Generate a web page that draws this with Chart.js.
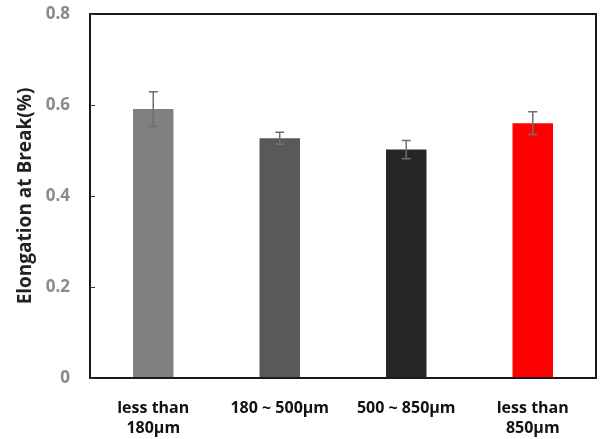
<!DOCTYPE html>
<html>
<head>
<meta charset="utf-8">
<script src="https://cdn.jsdelivr.net/npm/chart.js@4/dist/chart.umd.min.js"></script>
<style>
html,body{margin:0;padding:0;background:#fff;}
#wrap{width:600px;height:439px;position:relative;}
</style>
</head>
<body>
<div id="wrap"><canvas id="c" width="600" height="439"></canvas></div>
<script>
const categories = [["less than","180μm"], "180 ~ 500μm", "500 ~ 850μm", ["less than","850μm"]];
const values = [0.591, 0.527, 0.502, 0.560];
const errors = [0.038, 0.013, 0.020, 0.025];
const barColors = ["#808080", "#595959", "#262626", "#ff0000"];
const yTicks = [0, 0.2, 0.4, 0.6, 0.8];

const framePlugin = {
  id: 'frame',
  afterDatasetsDraw(chart) {
    const ctx = chart.ctx, a = chart.chartArea, y = chart.scales.y, x = chart.scales.x;
    ctx.save();
    ctx.strokeStyle = '#6e6e6e';
    ctx.lineWidth = 1.5;
    values.forEach((v, i) => {
      const cx = x.getPixelForValue(i);
      const top = y.getPixelForValue(v + errors[i]);
      const bot = y.getPixelForValue(v - errors[i]);
      ctx.beginPath();
      ctx.moveTo(cx, top); ctx.lineTo(cx, bot);
      ctx.moveTo(cx - 4.5, top); ctx.lineTo(cx + 4.5, top);
      ctx.moveTo(cx - 4.5, bot); ctx.lineTo(cx + 4.5, bot);
      ctx.stroke();
    });
    ctx.strokeStyle = '#1a1a1a';
    ctx.lineWidth = 2;
    ctx.strokeRect(a.left, a.top, a.right - a.left, a.bottom - a.top);
    ctx.lineWidth = 1;
    ctx.strokeStyle = '#333';
    yTicks.forEach(t => {
      const py = Math.round(y.getPixelForValue(t)) + 0.5;
      ctx.beginPath(); ctx.moveTo(a.left, py); ctx.lineTo(a.left + 5, py); ctx.stroke();
    });
    ctx.restore();
  }
};

new Chart(document.getElementById('c'), {
  type: 'bar',
  data: {
    labels: categories,
    datasets: [{
      data: values,
      backgroundColor: barColors,
      borderWidth: 0,
      barPercentage: 0.32,
      categoryPercentage: 1.0
    }]
  },
  options: {
    responsive: false,
    animation: false,
    devicePixelRatio: 1,
    layout: { padding: { top: 14, right: 4, left: 0, bottom: 0 } },
    plugins: { legend: { display: false }, tooltip: { enabled: false } },
    scales: {
      x: {
        grid: { display: false, drawTicks: false },
        border: { display: false },
        ticks: {
          color: '#111',
          padding: 20,
          maxRotation: 0,
          autoSkip: false,
          font: { family: 'Open Sans', size: 16, weight: 'bold', lineHeight: 1.25 }
        },
        afterFit(s) { s.height = 61; s.paddingLeft = 0; s.paddingRight = 0; }
      },
      y: {
        min: 0, max: 0.8,
        afterBuildTicks(s) { s.ticks = yTicks.map(v => ({ value: v })); },
        grid: { display: false, drawTicks: false },
        border: { display: false },
        ticks: {
          color: '#8a8a8a',
          padding: 20,
          font: { family: 'Open Sans', size: 17, weight: 'bold' },
          callback: v => v === 0 ? '0' : v.toFixed(1)
        },
        title: {
          display: true,
          text: 'Elongation at Break(%)',
          color: '#222',
          font: { family: 'Open Sans', size: 19, weight: 'bold' },
          padding: { top: 14, bottom: 4 }
        },
        afterFit(s) { s.width = 90; s.paddingTop = 0; s.paddingBottom = 0; }
      }
    }
  },
  plugins: [framePlugin]
});
</script>
</body>
</html>
